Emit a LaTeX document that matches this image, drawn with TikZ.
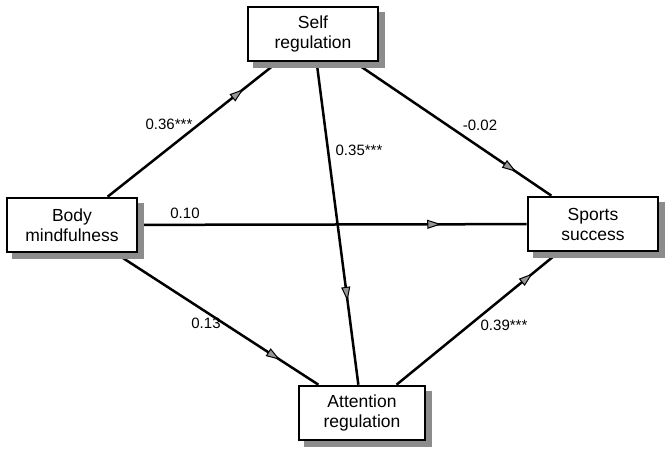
\documentclass[tikz,border=0pt]{standalone}
\usepackage{fontspec}
\setmainfont{Liberation Sans}
\usetikzlibrary{arrows.meta,decorations.markings,backgrounds,calc}
\definecolor{shadowgray}{RGB}{140,140,140}
\definecolor{tipgray}{RGB}{150,150,150}

\begin{document}
\begin{tikzpicture}[x=1pt, y=-1pt]
            \tikzset{var/.style={draw=black, line width=2.6pt, fill=white, minimum width=130pt, minimum height=54pt, align=center, font=\fontsize{17.5}{20}\selectfont}}
            \tikzset{boxshadow/.style={draw=shadowgray, line width=6pt, line cap=butt, line join=miter}}
            \tikzset{effect/.style={line width=2.5pt}}
            \tikzset{coef/.style={font=\fontsize{15}{17}\selectfont}}
            \tikzset{mid arrow/.style={decoration={markings, mark=at position #1 with {\arrow[line width=1pt]{Triangle[length=14pt, width=9pt, fill=tipgray]}}}, postaction={decorate}}}
            \useasboundingbox (0, 0) rectangle (669, 453);
            \node[var] (self) at (313, 34) {Self\\regulation};
            \node[var] (body) at (72, 225) {Body\\mindfulness};
            \node[var] (sports) at (593, 224) {Sports\\success};
            \node[var, minimum width=126pt] (att) at (362, 413) {Attention\\regulation};
            \begin{pgfonlayer}{background}
            \draw[effect, mid arrow=0.8] (body) -- (self);
            \draw[effect, mid arrow=0.82] (self) -- (sports);
            \draw[effect, mid arrow=0.78] (body) -- (sports);
            \draw[effect, mid arrow=0.74] (self) -- (att);
            \draw[effect, mid arrow=0.81] (body) -- (att);
            \draw[effect, mid arrow=0.84] (att) -- (sports);
            % shadow strips along the right and bottom edges
            \foreach \n in {self, body, sports, att}
                \draw[boxshadow] ($(\n.north east) + (3, 6)$) -- ($(\n.south east) + (3, 3)$) -- ($(\n.south west) + (6, 3)$);
            \end{pgfonlayer}
            \node[coef] (bs) at (169, 124) {0.36***};
            \node[coef] (ss) at (480, 125) {-0.02};
            \node[coef] (bsp) at (185, 213) {0.10};
            \node[coef] (sa) at (359, 150) {0.35***};
            \node[coef] (ba) at (206, 323) {0.13};
            \node[coef] (as) at (504, 325) {0.39***};
        \end{tikzpicture}
\end{document}
